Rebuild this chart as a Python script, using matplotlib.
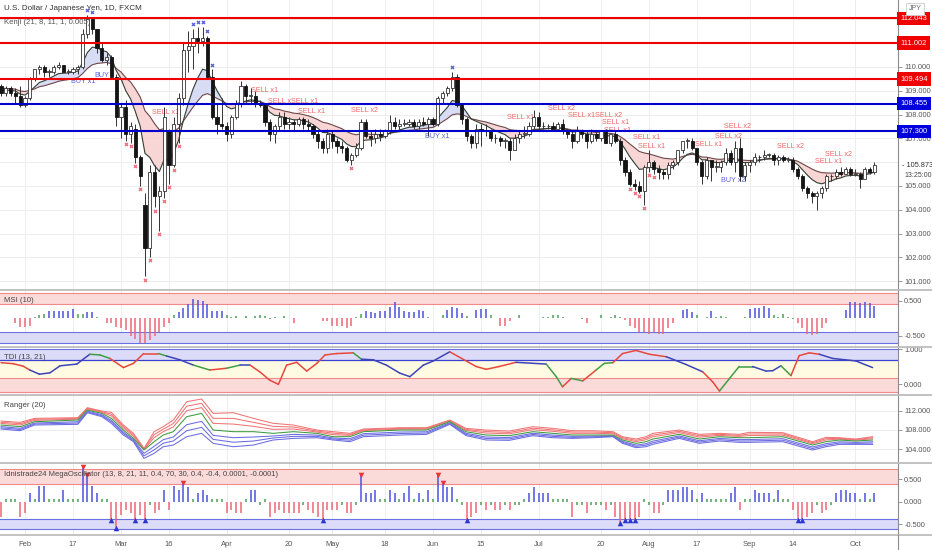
import matplotlib
matplotlib.use('Agg')
import matplotlib.pyplot as plt
from matplotlib.lines import Line2D
from matplotlib.transforms import blended_transform_factory as btf
import numpy as np

plt.rcParams['font.family'] = ['Liberation Sans', 'DejaVu Sans']

# ---------------- data ----------------
tick_pos = [5, 15, 25, 35, 47, 60, 69, 80, 90, 100, 112, 125, 135, 145, 156, 165, 178]
tick_lab = ['Feb', '17', 'Mar', '16', 'Apr', '20', 'May', '18', 'Jun', '15', 'Jul', '20',
            'Aug', '17', 'Sep', '14', 'Oct']

opens = [109.2,108.9,109.1,108.9,108.8,108.4,108.7,109.5,109.9,110.0,
         109.8,109.8,110.0,110.1,109.8,109.8,109.9,110.0,111.4,112.0,
         111.6,110.8,110.3,110.4,109.6,107.9,108.3,107.2,107.4,106.2,
         104.2,102.4,105.6,104.6,104.8,107.3,105.9,107.6,108.7,110.7,
         110.9,111.2,111.1,111.2,109.6,107.9,107.6,107.5,107.2,107.9,
         108.5,109.2,108.8,108.8,108.5,108.4,107.7,107.2,107.5,107.9,
         107.6,107.7,107.6,107.8,107.6,107.5,107.2,106.9,106.6,107.2,
         106.9,106.7,106.6,106.1,106.3,106.6,107.7,107.1,107.0,107.2,
         107.1,107.3,107.7,107.5,107.6,107.6,107.7,107.5,107.7,107.6,
         107.8,107.6,108.7,108.9,109.1,109.6,108.4,107.8,107.1,106.8,
         107.4,107.3,107.3,107.0,107.0,106.9,106.9,106.5,107.0,107.2,
         107.2,107.5,107.9,107.5,107.5,107.5,107.4,107.6,107.3,107.2,
         106.9,107.3,107.2,106.9,107.2,107.0,107.3,106.8,107.2,106.9,
         106.1,105.6,105.1,105.0,104.8,105.8,106.0,105.7,105.6,105.5,
         105.9,106.0,106.5,106.9,106.9,106.6,106.0,105.4,106.1,105.8,
         105.8,106.0,106.4,106.0,106.6,105.4,105.9,106.0,106.2,106.2,
         106.3,106.3,106.1,106.2,106.1,106.1,105.7,105.4,104.9,104.7,
         104.6,104.7,104.9,105.4,105.4,105.6,105.5,105.7,105.5,105.5,
         105.3,105.7,105.6]
highs = [109.3,109.2,109.2,109.1,109.2,108.8,109.6,109.9,110.1,110.1,
         109.9,110.1,110.2,110.1,109.9,110.0,110.1,111.6,112.2,112.1,
         111.6,111.0,110.6,110.5,109.7,108.5,108.6,107.7,107.6,106.3,
         104.7,105.9,105.9,105.0,108.3,107.4,107.9,108.9,111.0,111.5,
         111.6,111.7,111.7,111.3,109.9,108.5,108.7,107.7,108.0,108.6,
         109.4,109.3,109.1,109.0,108.6,108.5,107.8,107.6,108.1,108.1,
         107.9,107.8,107.9,107.9,107.8,107.6,107.3,107.0,107.4,107.3,
         107.0,106.9,106.7,106.4,106.8,107.8,107.8,107.3,107.4,107.4,
         107.4,108.0,107.9,107.8,107.8,107.8,107.8,107.8,107.9,107.9,
         107.9,108.8,109.0,109.2,109.8,109.7,108.5,107.9,107.2,107.6,
         107.6,107.6,107.4,107.2,107.1,107.0,107.0,107.2,107.3,107.5,
         107.7,108.2,108.1,107.7,107.6,107.7,107.7,107.8,107.4,107.3,
         107.5,107.4,107.3,107.4,107.3,107.3,107.4,107.2,107.3,107.0,
         106.2,105.7,105.3,105.2,105.9,106.5,106.1,105.9,105.7,106.0,
         106.1,106.5,106.9,107.0,107.0,106.6,106.1,106.2,106.1,106.1,
         106.1,106.6,106.5,106.9,107.0,106.0,106.1,106.4,106.3,106.5,
         106.4,106.4,106.3,106.3,106.2,106.2,105.8,105.5,105.0,104.8,
         104.8,105.0,105.5,105.5,105.7,105.8,105.8,105.8,105.7,105.6,
         105.8,105.8,106.0]
lows = [108.8,108.8,108.8,108.5,108.3,108.3,108.6,109.4,109.7,109.6,
        109.6,109.7,109.9,109.8,109.7,109.7,109.7,109.9,111.2,111.4,
        110.6,110.2,110.1,109.5,107.5,107.0,106.9,106.8,105.95,105.0,
        101.2,102.0,104.1,103.1,104.5,105.1,105.8,106.8,108.4,109.8,
        109.9,110.6,110.9,109.5,107.8,107.2,107.4,106.9,107.0,107.8,
        108.3,108.5,108.5,108.3,108.3,107.5,106.9,106.8,107.3,107.4,
        107.4,107.3,107.5,107.4,107.3,107.0,106.6,106.4,106.4,106.6,
        106.4,106.4,106.0,105.9,106.2,106.5,107.0,106.7,106.8,106.9,
        107.0,107.2,107.4,107.4,107.5,107.5,107.4,107.4,107.5,107.1,
        107.5,107.5,108.5,108.8,109.0,108.3,107.6,106.9,106.6,106.6,
        106.7,107.1,106.9,106.8,106.7,106.6,106.1,106.5,106.8,107.0,
        107.1,107.4,107.4,107.4,107.4,107.3,107.4,107.2,107.0,106.6,
        106.8,107.0,106.6,106.8,106.9,106.9,106.8,106.7,106.8,105.9,
        105.4,105.0,104.85,104.7,104.2,105.6,105.5,105.3,105.3,105.3,
        105.7,105.9,106.4,106.6,106.5,105.9,105.1,105.3,105.2,105.6,
        105.6,105.9,105.9,105.6,105.2,105.2,105.6,105.9,106.0,106.1,
        106.2,105.9,105.9,106.0,106.0,105.6,105.3,104.8,104.5,104.3,
        104.0,104.5,104.8,105.2,105.3,105.4,105.5,105.4,105.4,104.9,
        105.3,105.5,105.5]
closes = [108.9,109.1,108.9,108.8,108.4,108.7,109.5,109.9,110.0,109.8,
          109.8,110.0,110.1,109.8,109.8,109.9,110.0,111.4,112.0,111.6,
          110.8,110.3,110.4,109.6,107.9,108.3,107.2,107.5,106.2,105.4,
          102.4,105.6,104.6,104.8,107.9,105.9,107.6,108.7,110.7,110.9,
          111.2,111.1,111.2,109.6,107.9,107.6,107.5,107.2,107.9,108.5,
          109.2,108.8,108.8,108.5,108.4,107.7,107.2,107.5,107.9,107.6,
          107.7,107.6,107.8,107.6,107.5,107.2,106.9,106.6,107.2,106.9,
          106.7,106.6,106.1,106.3,106.6,107.7,107.1,107.0,107.2,107.1,
          107.3,107.7,107.5,107.6,107.6,107.7,107.5,107.7,107.6,107.8,
          107.6,108.7,108.9,109.1,109.6,108.4,107.8,107.1,106.8,107.4,
          107.3,107.3,107.0,107.0,106.9,106.9,106.5,107.0,107.2,107.2,
          107.5,107.9,107.5,107.5,107.5,107.4,107.6,107.3,107.2,106.9,
          107.3,107.2,106.9,107.2,107.0,107.3,106.8,107.2,106.9,106.1,
          105.6,105.1,105.0,104.8,105.8,106.0,105.7,105.6,105.5,105.9,
          106.0,106.5,106.9,106.9,106.6,106.0,105.4,106.1,105.8,105.8,
          106.0,106.4,106.0,106.6,105.4,105.9,106.0,106.2,106.2,106.3,
          106.3,106.1,106.2,106.1,106.1,105.7,105.4,104.9,104.7,104.6,
          104.7,104.9,105.4,105.4,105.6,105.5,105.7,105.5,105.5,105.3,
          105.7,105.6,105.9]

kenji_fast = [109.00,109.02,109.02,108.99,108.86,108.82,108.97,109.16,109.35,109.42,
              109.51,109.62,109.72,109.74,109.75,109.79,109.83,110.18,110.61,110.83,
              110.82,110.70,110.64,110.41,109.85,109.51,109.00,108.66,108.12,107.51,
              106.37,106.20,105.85,105.61,106.12,106.07,106.41,106.92,107.76,108.46,
              109.07,109.54,109.91,109.84,109.41,109.01,108.67,108.34,108.24,108.30,
              108.50,108.57,108.62,108.59,108.55,108.36,108.10,107.97,107.95,107.87,
              107.83,107.78,107.78,107.74,107.69,107.58,107.43,107.25,107.24,107.16,
              107.06,106.96,106.77,106.66,106.65,106.88,106.93,106.94,106.99,107.02,
              107.08,107.22,107.28,107.35,107.41,107.47,107.48,107.53,107.54,107.60,
              107.60,107.84,108.08,108.30,108.59,108.55,108.38,108.10,107.81,107.72,
              107.63,107.55,107.43,107.33,107.24,107.16,107.01,107.01,107.05,107.09,
              107.18,107.34,107.37,107.40,107.42,107.42,107.46,107.42,107.37,107.27,
              107.28,107.26,107.18,107.18,107.14,107.18,107.09,107.12,107.07,106.86,
              106.56,106.23,105.96,105.70,105.72,105.78,105.77,105.73,105.68,105.73,
              105.79,105.95,106.16,106.33,106.39,106.30,106.10,106.10,106.03,105.98,
              105.99,106.08,106.06,106.18,106.01,105.98,105.99,106.03,106.07,106.12,
              106.16,106.15,106.16,106.15,106.14,106.04,105.90,105.68,105.46,105.27,
              105.14,105.09,105.16,105.21,105.30,105.34,105.42,105.44,105.45,105.42,
              105.48,105.51,105.59]
kenji_slow = [109.10,109.10,109.09,109.07,108.99,108.97,109.02,109.08,109.17,109.21,
              109.27,109.33,109.40,109.44,109.47,109.51,109.55,109.72,109.94,110.09,
              110.15,110.17,110.19,110.14,109.94,109.79,109.55,109.37,109.08,108.74,
              108.16,107.93,107.62,107.36,107.41,107.27,107.30,107.43,107.73,108.02,
              108.31,108.57,108.81,108.88,108.79,108.68,108.58,108.46,108.44,108.45,
              108.52,108.54,108.56,108.56,108.55,108.47,108.34,108.24,108.21,108.15,
              108.11,108.06,108.04,108.00,107.95,107.88,107.79,107.68,107.64,107.57,
              107.49,107.41,107.29,107.20,107.15,107.20,107.19,107.17,107.17,107.16,
              107.17,107.22,107.25,107.28,107.31,107.34,107.35,107.39,107.41,107.44,
              107.46,107.57,107.70,107.83,107.99,108.03,108.01,107.92,107.82,107.78,
              107.73,107.69,107.63,107.57,107.51,107.46,107.37,107.34,107.33,107.31,
              107.33,107.38,107.39,107.40,107.41,107.41,107.43,107.42,107.40,107.35,
              107.35,107.33,107.29,107.28,107.25,107.26,107.21,107.21,107.18,107.08,
              106.94,106.77,106.61,106.45,106.39,106.35,106.29,106.23,106.17,106.15,
              106.13,106.17,106.24,106.30,106.33,106.30,106.22,106.21,106.17,106.13,
              106.12,106.15,106.13,106.17,106.10,106.08,106.07,106.08,106.10,106.12,
              106.13,106.13,106.14,106.14,106.13,106.10,106.04,105.93,105.82,105.71,
              105.62,105.56,105.55,105.54,105.55,105.55,105.56,105.56,105.55,105.53,
              105.54,105.55,105.58]

sr_red = [112.043, 111.002, 109.494]
sr_blue = [108.455, 107.300]
last_price = 105.873

sell_star_idx = [26, 27, 28, 29, 30, 31, 32, 33, 34, 35, 36, 37, 73, 131, 132, 133, 134, 135, 136]
buy_star_idx = [18, 19, 40, 41, 42, 43, 44, 94]

sig_text = ['BUY x1', 'BUY', 'SELL x1', 'SELL xSELL x1', 'SELL x1', 'SELL x1', 'SELL x2', 'BUY x1',
            'SELL x1', 'SELL x2', 'SELL x1SELL x2', 'SELL x1', 'SELL x1', 'SELL x1', 'SELL x1',
            'SELL x1', 'SELL x2', 'SELL x2', 'BUY x2', 'SELL x2', 'SELL x1', 'SELL x2']
sig_i = [17.1, 21.0, 55.0, 60.8, 64.8, 34.2, 75.8, 90.8, 108.3, 116.7, 123.8, 128.1, 128.5,
         134.6, 135.6, 147.5, 151.5, 153.5, 152.5, 164.4, 172.5, 174.4]
sig_p = [109.37, 109.66, 109.03, 108.57, 108.11, 108.07, 108.19, 107.10, 107.86, 108.24, 107.98,
         107.65, 107.35, 107.02, 106.68, 106.76, 107.10, 107.48, 105.21, 106.68, 106.01, 106.34]

msi = [0.02,0.02,0.02,-0.15,-0.26,-0.26,-0.21,0.03,0.08,0.12,
       0.22,0.22,0.22,0.22,0.22,0.25,0.12,0.12,0.17,0.17,
       0.04,0.01,-0.13,-0.13,-0.24,-0.29,-0.34,-0.51,-0.59,-0.72,
       -0.72,-0.62,-0.51,-0.38,-0.24,-0.15,0.08,0.19,0.28,0.40,
       0.55,0.52,0.50,0.40,0.22,0.22,0.22,0.09,0.04,0.07,
       0.02,0.07,0.02,0.06,0.08,0.05,-0.02,0.04,0.02,0.05,
       0.02,-0.13,0.01,0.01,0.01,0.01,0.01,-0.08,-0.08,-0.21,
       -0.21,-0.21,-0.29,-0.21,0.03,0.12,0.22,0.17,0.14,0.22,
       0.22,0.33,0.45,0.33,0.22,0.19,0.19,0.24,0.22,0.04,
       0.01,0.01,0.08,0.24,0.33,0.28,0.14,0.05,
       0.02,0.23,0.26,0.26,0.09,0.0,-0.21,-0.21,-0.08,0.01,
       0.09,0.02,0.02,0.01,0.02,0.04,0.04,0.09,0.09,0.04,
       0.02,0.02,0.02,-0.02,-0.15,0.01,0.02,0.09,0.01,0.04,
       0.09,0.04,-0.05,-0.21,-0.29,-0.38,-0.38,-0.46,-0.38,-0.46,
       -0.46,-0.29,-0.15,0.01,0.23,0.26,0.19,0.09,0.0,0.04,
       0.20,0.04,0.07,0.04,0.0,0.0,0.02,0.04,0.26,0.30,
       0.30,0.36,0.30,0.09,0.04,0.11,0.04,-0.02,-0.15,-0.29,
       -0.46,-0.48,-0.46,-0.29,-0.15,0.0,0.02,0.01,0.23,0.45,
       0.47,0.42,0.47,0.42,0.36]

tdi_i = [0, 2.6, 4.6, 6.0, 8.0, 10.2, 12.3, 15.8, 18.5, 20.6, 22.7, 25.5, 27.6, 29.7, 32.8, 34.5,
         37.3, 40.1, 43.5, 47.0, 49.8, 51.9, 53.9, 56.0, 57.8, 59.5, 61.6, 63.7, 65.8, 67.5, 69.9,
         73.4, 75.1, 77.6, 80.3, 83.1, 85.2, 88.0, 90.1, 93.5, 96.9, 99.0, 101.1, 103.8, 107.3,
         113.6, 115.7, 117.0, 118.8, 121.2, 124.0, 125.7, 127.5, 129.5, 132.3, 135.1, 138.6,
         142.7, 146.2, 148.3, 149.7, 151.8, 153.8, 156.6, 159.4, 160.8, 162.5, 164.6, 166.3,
         168.4, 170.5, 173.3, 178.1, 181.6]
tdi_v = [0.61, 0.58, 0.51, 0.40, 0.28, 0.32, 0.52, 0.57, 0.85, 0.83, 0.73, 0.47, 0.59, 0.87, 0.87,
         0.80, 0.69, 0.54, 0.40, 0.45, 0.54, 0.54, 0.35, 0.11, -0.01, 0.54, 0.62, 0.37, 0.59, 0.83,
         0.87, 0.89, 0.71, 0.69, 0.54, 0.31, 0.21, 0.54, 0.66, 0.92, 0.66, 0.50, 0.42, 0.50, 0.62,
         0.57, 0.21, -0.08, 0.16, 0.09, 0.40, 0.59, 0.61, 0.87, 0.96, 0.85, 0.78, 0.56, 0.35, 0.06,
         -0.20, 0.16, 0.50, 0.50, 0.37, 0.38, 0.52, 0.24, 0.81, 0.89, 0.85, 0.73, 0.66, 0.47]
tdi_c = 'rrrbbbbbggrrrrgbbgrgbrrrrrrrrrrgbbbbbbbrrrrrbggrgrggrrrrbbrrgggbbbgrrrbbbb'

rng_i = [0, 4, 7, 16, 18, 21, 23, 25.5, 27.6, 29.8, 31.9, 33.8, 35.9, 38.7, 41.8, 44.2, 48.4,
         52.6, 56.7, 60.9, 65.8, 69.2, 72.7, 75.5, 83.1, 88.7, 93.5, 96.9, 101.1, 105.9, 110.8,
         115.0, 119.1, 123.3, 127.5, 129.5, 132.3, 134.4, 135.8, 141.3, 145.5, 149.7, 153.8,
         155.9, 162.9, 169.1, 171.9, 174.7, 178.1, 181.6]
rng_up = [109.84, 109.56, 110.40, 110.54, 112.63, 111.93, 111.65, 109.01, 107.27, 104.14, 107.62,
          108.66, 110.05, 113.88, 114.44, 111.44, 111.58, 110.40, 109.36, 109.01, 107.96, 107.62,
          107.27, 108.17, 108.45, 108.45, 110.05, 108.31, 107.96, 107.75, 108.66, 108.31, 107.82,
          107.82, 107.62, 106.57, 106.08, 106.57, 107.27, 107.96, 107.06, 107.27, 107.06, 107.48,
          107.41, 105.53, 106.43, 106.36, 106.08, 106.57]
rng_mid = [109.01, 108.66, 109.70, 110.05, 112.14, 111.44, 110.40, 107.96, 106.22, 103.79, 105.53,
           106.92, 107.62, 110.75, 111.44, 107.96, 107.62, 107.62, 107.27, 107.62, 107.27, 106.57,
           106.57, 107.62, 107.96, 107.96, 109.70, 107.60, 106.92, 106.78, 107.62, 107.27, 106.92,
           106.92, 106.92, 105.88, 105.18, 105.53, 106.08, 107.06, 106.08, 106.57, 106.36, 106.36,
           106.57, 104.83, 105.53, 105.88, 105.67, 105.88]
rng_lo = [108.17, 107.82, 109.01, 109.15, 111.58, 110.75, 109.36, 106.92, 105.53, 102.05, 103.09,
          104.48, 104.83, 106.57, 107.27, 105.18, 104.48, 104.83, 105.88, 106.22, 106.36, 105.88,
          105.53, 106.57, 106.92, 107.06, 109.15, 106.80, 105.88, 105.81, 106.78, 106.36, 106.22,
          106.36, 106.57, 105.18, 104.28, 104.48, 104.97, 106.22, 105.18, 105.67, 105.39, 105.39,
          105.53, 103.79, 104.48, 104.97, 104.97, 104.97]

mega = [-0.33,0.05,0.05,0.05,-0.35,-0.26,0.19,0.07,0.35,0.35,
        0.07,0.07,0.07,0.26,0.07,0.07,0.07,0.78,0.59,0.35,
        0.19,0.07,0.07,-0.41,-0.59,-0.30,-0.18,-0.26,-0.41,-0.30,
        -0.41,-0.07,-0.26,-0.18,0.25,-0.18,0.35,0.26,0.42,0.33,
        0.07,0.19,0.25,0.15,0.07,0.07,0.07,-0.26,-0.18,-0.26,
        -0.26,0.07,0.26,0.26,-0.07,0.07,-0.33,-0.26,-0.18,-0.26,
        -0.26,-0.26,-0.26,-0.07,-0.18,-0.26,-0.33,-0.41,-0.18,-0.18,
        -0.18,-0.07,-0.26,-0.26,-0.07,0.59,0.19,0.19,0.26,0.07,
        0.07,0.26,0.19,0.07,0.19,0.35,0.07,0.19,0.07,0.26,
        0.07,0.59,0.42,0.33,0.33,0.07,-0.07,-0.41,
        -0.33,-0.26,-0.07,-0.18,-0.07,-0.18,-0.18,-0.07,-0.18,-0.07,
        -0.07,0.07,0.19,0.33,0.19,0.19,0.19,0.07,0.07,0.07,
        0.07,-0.35,-0.07,-0.07,-0.26,-0.07,-0.07,-0.07,-0.18,-0.07,
        -0.33,-0.48,-0.41,-0.41,-0.41,-0.33,0.07,-0.07,-0.26,-0.26,
        -0.07,0.25,0.25,0.25,0.33,0.33,0.25,0.07,0.19,0.07,
        0.07,0.07,0.07,0.07,0.19,0.33,-0.18,0.07,0.07,0.25,
        0.19,0.19,0.19,0.07,0.25,0.07,0.07,-0.18,-0.41,-0.41,
        -0.33,-0.26,-0.07,-0.26,-0.18,-0.07,0.19,0.25,0.25,0.19,
        0.19,0.07,0.19,0.07,0.19]
mega_sell_idx = [17, 18, 38, 75, 91, 92]
mega_buy_idx = [23, 24, 28, 30, 67, 97, 129, 130, 131, 132, 166, 167]

# ---------------- layout helpers ----------------
W, H = 932, 550
PR = 898
XMIN, XMAX = -0.21, 186.9

fig = plt.figure(figsize=(W / 100, H / 100), dpi=100)
fig.patch.set_facecolor('white')


def px_axes(top, bottom):
    return fig.add_axes([0, 1 - bottom / H, PR / W, (bottom - top) / H])


def style(a, ylim, yticks):
    a.set_xlim(XMIN, XMAX)
    a.set_ylim(*ylim)
    a.set_facecolor('none')
    for s in ['top', 'left', 'bottom']:
        a.spines[s].set_visible(False)
    a.spines['right'].set_color('#8c8c8c')
    a.spines['right'].set_linewidth(0.8)
    a.yaxis.tick_right()
    a.set_yticks(yticks)
    a.set_yticklabels(['%.3f' % t for t in yticks])
    a.tick_params(axis='y', length=3, width=0.6, color='#888888', labelcolor='#555555',
                  labelsize=5.3, pad=1.5)
    a.tick_params(axis='x', length=0, labelbottom=False)
    for t in tick_pos:
        a.axvline(t, color='#ededed', lw=0.7, zorder=0)


def ftext(x, y, s, **kw):
    fig.text(x / W, 1 - y / H, s, **kw)


n = len(closes)
xs = np.arange(n)
o = np.array(opens); h = np.array(highs); l = np.array(lows); c = np.array(closes)

# ---------------- main price panel ----------------
ax = px_axes(0, 289.5)
style(ax, (100.651, 112.815), [101, 102, 103, 104, 105, 107, 108, 109, 110])
for p in range(101, 113):
    ax.axhline(p, color='#ededed', lw=0.7, zorder=0)

kf = np.array(kenji_fast); ks = np.array(kenji_slow)
ax.fill_between(xs, kf, ks, where=kf < ks, interpolate=True, color='#f7cfcf', alpha=0.85, lw=0, zorder=1)
ax.fill_between(xs, kf, ks, where=kf >= ks, interpolate=True, color='#d3d6f4', alpha=0.85, lw=0, zorder=1)
ax.plot(xs, ks, color='#6e4747', lw=0.8, zorder=2)
ax.plot(xs, kf, color='#2f3f33', lw=0.8, zorder=2)

for t, i, p in zip(sig_text, sig_i, sig_p):
    col = '#5a63d6' if t.startswith('BUY') else '#f26464'
    ax.text(i, p, t, fontsize=5.2, color=col, ha='center', va='center', zorder=2.5)

up = c >= o
body_b = np.minimum(o, c)
body_h = np.maximum(np.abs(c - o), 0.035)
ax.vlines(xs, l, h, color='#333333', lw=0.7, zorder=3)
ax.bar(xs[up], body_h[up], bottom=body_b[up], width=0.66, color='white', edgecolor='#333333',
       linewidth=0.6, zorder=4)
ax.bar(xs[~up], body_h[~up], bottom=body_b[~up], width=0.66, color='#151515', edgecolor='#151515',
       linewidth=0.6, zorder=4)

si = np.array(sell_star_idx); bi = np.array(buy_star_idx)
ax.scatter(si, l[si] - 0.13, marker='x', s=5, color='#f06a78', lw=0.9, zorder=5)
ax.scatter(bi, h[bi] + 0.2, marker='x', s=5, color='#5560d8', lw=0.9, zorder=5)

for p in sr_red:
    ax.axhline(p, color='#ee0000', lw=1.5, zorder=6)
for p in sr_blue:
    ax.axhline(p, color='#0000cc', lw=1.5, zorder=6)

tr = btf(ax.transAxes, ax.transData)
for p in sr_red:
    ax.text(1.0025, p, '%.3f' % p, transform=tr, fontsize=5.4, color='white', ha='left', va='center',
            zorder=20, clip_on=False,
            bbox=dict(boxstyle='square,pad=0.42', fc='#f00000', ec='none'))
for p in sr_blue:
    ax.text(1.0025, p, '%.3f' % p, transform=tr, fontsize=5.4, color='white', ha='left', va='center',
            zorder=20, clip_on=False,
            bbox=dict(boxstyle='square,pad=0.42', fc='#0000dd', ec='none'))
ax.text(1.0045, last_price, '- %.3f' % last_price, transform=tr, fontsize=5.3, color='#333333',
        ha='left', va='center', zorder=20, clip_on=False)
ax.text(1.0075, 105.42, '13:25:00', transform=tr, fontsize=5.0, color='#444444',
        ha='left', va='center', zorder=20, clip_on=False)
ftext(915, 9, 'JPY', fontsize=5.0, color='#666666', ha='center', va='center',
      bbox=dict(boxstyle='square,pad=0.3', fc='white', ec='#cccccc', lw=0.6))

ftext(4, 8.5, 'U.S. Dollar / Japanese Yen, 1D, FXCM', fontsize=5.8, color='#333333', va='center')
ftext(4, 22.5, 'Kenji (21, 8, 11, 1, 0.005)', fontsize=5.6, color='#555555', va='center')

# ---------------- MSI ----------------
am = px_axes(291, 346)
style(am, (-0.794, 0.777), [0.5, -0.5])
am.axhspan(0.40, 0.72, color='#fbdada', zorder=0.5, lw=0)
am.axhline(0.40, color='#f08a8a', lw=0.8, zorder=0.6)
am.axhline(0.72, color='#f08a8a', lw=0.8, zorder=0.6)
am.axhspan(-0.72, -0.40, color='#dcdcf8', zorder=0.5, lw=0)
am.axhline(-0.40, color='#6a70e0', lw=0.8, zorder=0.6)
am.axhline(-0.72, color='#6a70e0', lw=0.8, zorder=0.6)
mv = np.array(msi)
mcol = np.where(mv >= 0.13, '#4c52dc', np.where(mv <= -0.05, '#ef6676', '#4e9e55'))
am.vlines(xs, 0, np.where(np.abs(mv) < 0.015, 0.015, mv), colors=mcol, lw=1.1, zorder=2)
ftext(4, 301, 'MSI (10)', fontsize=5.6, color='#444444', va='center')

# ---------------- TDI ----------------
at = px_axes(348, 393.5)
style(at, (-0.271, 1.029), [1.0, 0.0])
at.axhspan(0.686, 1.0, color='#dcdcf8', zorder=0.5, lw=0)
at.axhline(1.0, color='#6a70e0', lw=0.8, zorder=0.6)
at.axhline(0.686, color='#3a40d0', lw=0.9, zorder=0.6)
at.axhspan(0.18, 0.686, color='#fffbe3', zorder=0.5, lw=0)
at.axhspan(-0.24, 0.18, color='#fbdada', zorder=0.5, lw=0)
at.axhline(0.18, color='#f08a8a', lw=0.8, zorder=0.6)
at.axhline(-0.24, color='#f08a8a', lw=0.8, zorder=0.6)
cmap = {'r': '#e8473c', 'g': '#3f9e46', 'b': '#3c44b8'}
for k in range(len(tdi_i) - 1):
    at.plot(tdi_i[k:k + 2], tdi_v[k:k + 2], color=cmap[tdi_c[k]], lw=1.1, zorder=2,
            solid_capstyle='round')
ftext(4, 357.5, 'TDI (13, 21)', fontsize=5.6, color='#444444', va='center')

# ---------------- Ranger ----------------
ar = px_axes(395.5, 462)
style(ar, (101.29, 115.17), [112, 108, 104])
for p in [104, 108, 112]:
    ar.axhline(p, color='#ededed', lw=0.7, zorder=0)
ru = np.array(rng_up); rm = np.array(rng_mid); rl = np.array(rng_lo)
for k in range(3):
    ar.plot(rng_i, ru - k * 0.3 * (ru - rm), color='#f07474', lw=0.75, zorder=2)
    ar.plot(rng_i, rl + k * 0.3 * (rm - rl), color='#6b6be2', lw=0.75, zorder=2)
ar.plot(rng_i, rm, color='#3c9a3c', lw=0.75, zorder=2)
ftext(4, 405.5, 'Ranger (20)', fontsize=5.6, color='#444444', va='center')

# ---------------- Mega oscillator ----------------
ao = px_axes(464, 534)
style(ao, (-0.718, 0.838), [0.5, 0.0, -0.5])
ao.axhspan(0.39, 0.72, color='#fbdada', zorder=0.5, lw=0)
ao.axhline(0.39, color='#f08a8a', lw=0.8, zorder=0.6)
ao.axhline(0.72, color='#f08a8a', lw=0.8, zorder=0.6)
ao.axhspan(-0.61, -0.39, color='#dcdcf8', zorder=0.5, lw=0)
ao.axhline(-0.39, color='#6a70e0', lw=0.8, zorder=0.6)
ao.axhline(-0.61, color='#6a70e0', lw=0.8, zorder=0.6)
gv = np.array(mega)
gcol = np.where(gv >= 0.15, '#4c52dc', np.where(gv <= -0.15, '#ef6676', '#4e9e55'))
ao.vlines(xs, 0, gv, colors=gcol, lw=1.1, zorder=2)
ms = np.array(mega_sell_idx); mb = np.array(mega_buy_idx)
ao.scatter(ms, gv[ms], marker='v', s=16, color='#e8353a', zorder=4, lw=0, clip_on=False)
ao.scatter(mb, gv[mb], marker='^', s=16, color='#2b35d0', zorder=4, lw=0, clip_on=False)
ftext(4, 475, 'Idnistrade24 MegaOscillator (13, 8, 21, 11, 0.4, 70, 30, 0.4, -0.4, 0.0001, -0.0001)',
      fontsize=5.5, color='#444444', va='center')
ao.set_xticks(tick_pos)
ao.set_xticklabels(tick_lab)
ao.tick_params(axis='x', length=0, labelbottom=True, labelsize=5.4, labelcolor='#555555', pad=5)

# ---------------- separators ----------------
for yy in [290.2, 347.0, 394.5, 463.0, 534.5]:
    fig.add_artist(Line2D([0, 1], [1 - yy / H] * 2, transform=fig.transFigure,
                          color='#bdbdbd', lw=1.3))
fig.add_artist(Line2D([PR / W] * 2, [0, 1 - 534.5 / H], transform=fig.transFigure,
                      color='#8c8c8c', lw=0.8))

fig.savefig('out.png', dpi=100, facecolor='white')
